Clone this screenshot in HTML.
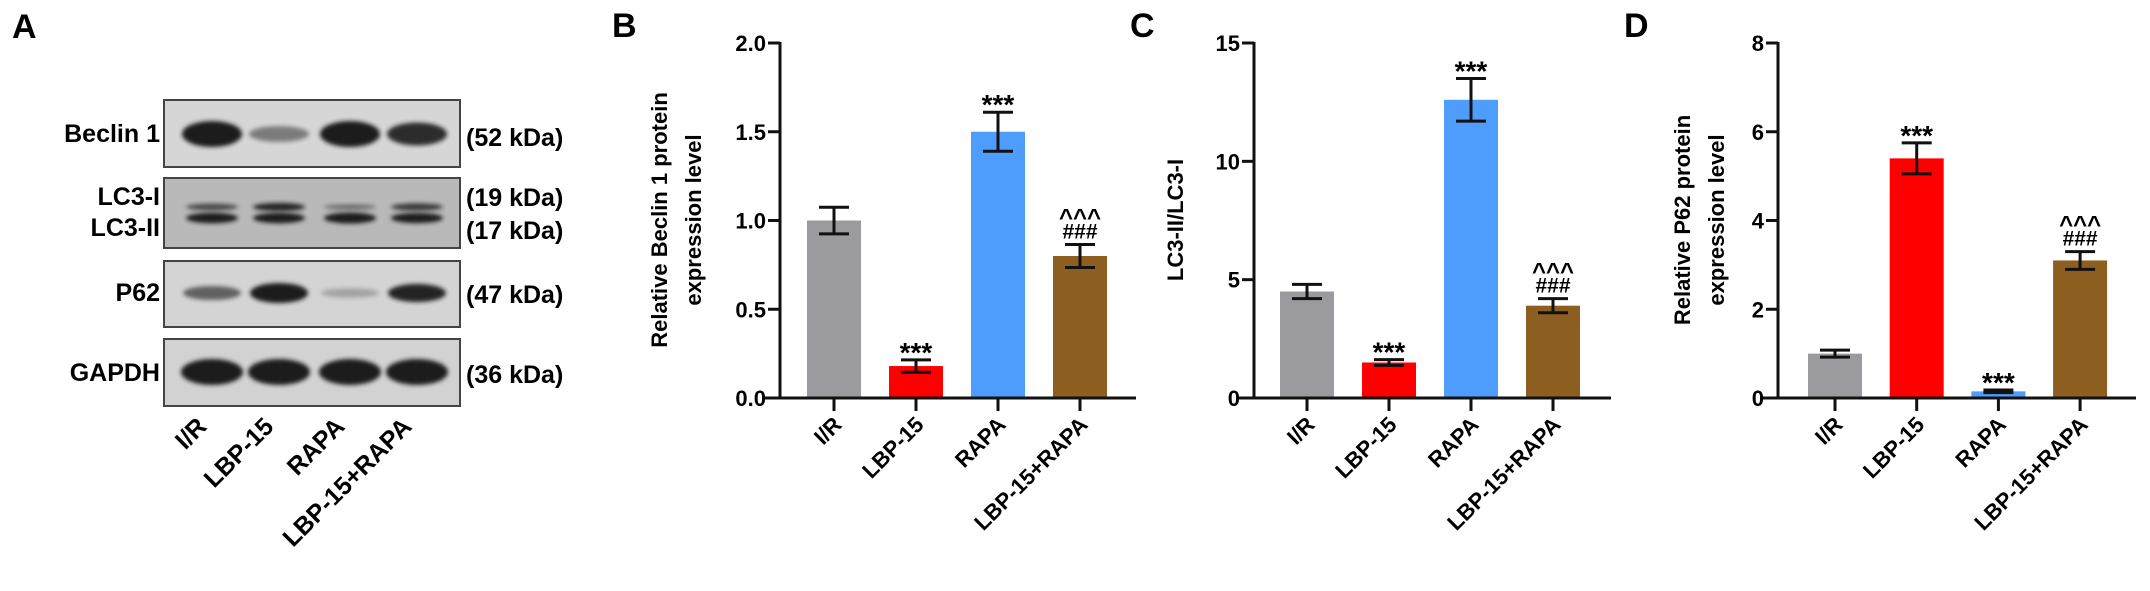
<!DOCTYPE html>
<html><head><meta charset="utf-8">
<style>
html,body{margin:0;padding:0;background:#fff;}
svg{display:block;font-family:"Liberation Sans",Arial,sans-serif;font-weight:bold;}
</style></head>
<body>
<svg id="fig" width="2150" height="591" viewBox="0 0 2150 591" xmlns="http://www.w3.org/2000/svg">
  <defs>
    <filter id="blur" x="-20%" y="-50%" width="140%" height="200%"><feGaussianBlur stdDeviation="2"/></filter>
  </defs>
  <g id="panelA">
    <text x="12" y="38" font-size="34">A</text>
  </g>
  <g id="charts"></g>
</svg>
<script>
// ---------- Shared categories ----------
const categories = ["I/R", "LBP-15", "RAPA", "LBP-15+RAPA"];
const barColors = ["#9b9b9f", "#ff0000", "#4e9dfc", "#8c5e1f"];

// ---------- Panel B data ----------
const bValues = [1.0, 0.18, 1.5, 0.8];
const bErrors = [0.075, 0.035, 0.11, 0.065];
const bTicks = ["0.0", "0.5", "1.0", "1.5", "2.0"];
const bTickValues = [0, 0.5, 1.0, 1.5, 2.0];
const bStars = ["", "***", "***", ""];
const bHash = ["", "", "", "###"];
const bCaret = ["", "", "", "^^^"];

// ---------- Panel C data ----------
const cValues = [4.5, 1.5, 12.6, 3.9];
const cErrors = [0.3, 0.12, 0.9, 0.3];
const cTicks = ["0", "5", "10", "15"];
const cTickValues = [0, 5, 10, 15];
const cStars = ["", "***", "***", ""];
const cHash = ["", "", "", "###"];
const cCaret = ["", "", "", "^^^"];

// ---------- Panel D data ----------
const dValues = [1.0, 5.4, 0.15, 3.1];
const dErrors = [0.08, 0.35, 0.03, 0.2];
const dTicks = ["0", "2", "4", "6", "8"];
const dTickValues = [0, 2, 4, 6, 8];
const dStars = ["", "***", "***", ""];
const dHash = ["", "", "", "###"];
const dCaret = ["", "", "", "^^^"];

// ---------- Blot data (band intensities 0..1 per lane) ----------
const blotRows = ["Beclin 1", "LC3", "P62", "GAPDH"];
const beclinBands = [1.0, 0.35, 1.15, 0.8];
const lc3UpperBands = [0.6, 0.85, 0.35, 0.7];
const lc3LowerBands = [0.95, 0.95, 1.0, 0.9];
const p62Bands = [0.5, 1.0, 0.12, 0.85];
const gapdhBands = [1.0, 1.0, 1.0, 1.0];
const kdaLabels = ["(52 kDa)", "(19 kDa)", "(17 kDa)", "(47 kDa)", "(36 kDa)"];

const NS = "http://www.w3.org/2000/svg";
function mk(tag, attrs, parent) {
  const el = document.createElementNS(NS, tag);
  for (const k in attrs) el.setAttribute(k, attrs[k]);
  if (parent) parent.appendChild(el);
  return el;
}

// ================= Panel A =================
const gA = document.getElementById("panelA");
const laneX = [212, 279, 350, 417];
const boxL = 164, boxR = 460;
const boxes = [
  {y0:100, y1:167, bg:"#d6d6d6", name:"beclin-1-blot"},
  {y0:178, y1:248, bg:"#b9b9b9", name:"lc3-blot"},
  {y0:261, y1:327, bg:"#d4d4d4", name:"p62-blot"},
  {y0:339, y1:406, bg:"#d2d2d2", name:"gapdh-blot"}
];
boxes.forEach(b => {
  const r = mk("rect", {x:boxL, y:b.y0, width:boxR-boxL, height:b.y1-b.y0, fill:b.bg, stroke:"#444", "stroke-width":2}, gA);
  
  
});
function bands(arr, y, h, w) {
  arr.forEach((v, i) => {
    if (v <= 0) return;
    const e = mk("ellipse", {cx:laneX[i], cy:y, rx:w/2, ry:h/2*Math.min(1, 0.4+v*0.6), fill:"#1a1a1a", opacity:Math.min(1, 0.15+v*0.95), filter:"url(#blur)"}, gA);
    
    
  });
}
bands(beclinBands, 134, 26, 60);
bands(lc3UpperBands, 207, 9, 52);
bands(lc3LowerBands, 218, 11, 52);
bands(p62Bands, 293, 20, 58);
bands(gapdhBands, 372, 26, 62);

const leftLabels = [["Beclin 1",142],["LC3-I",205],["LC3-II",236],["P62",301],["GAPDH",381]];
leftLabels.forEach(l => {
  const t = mk("text", {x:160, y:l[1], "font-size":25, "text-anchor":"end"}, gA);
  t.textContent = l[0];
  
  
});
const kdaY = [146, 206, 239, 303, 383];
kdaLabels.forEach((k, i) => {
  const t = mk("text", {x:466, y:kdaY[i], "font-size":25}, gA);
  t.textContent = k;
  
  
});
categories.forEach((c, i) => {
  const t = mk("text", {x:0, y:0, "font-size":25, "text-anchor":"end", transform:`translate(${laneX[i]-4},428) rotate(-45)`}, gA);
  t.textContent = c;
  
  
});

// ================= Bar charts =================
const charts = document.getElementById("charts");
function barChart(cfg) {
  const g = mk("g", {}, charts);
  
  
  const y0 = 398, yTop = 43;
  const vmax = cfg.tickValues[cfg.tickValues.length-1];
  const yScale = v => y0 - (v / vmax) * (y0 - yTop);
  const xScale = i => cfg.x0 + i * cfg.step;

  const lbl = mk("text", {x:cfg.letterX, y:37, "font-size":34}, g);
  lbl.textContent = cfg.letter;
  
  

  cfg.values.forEach((v, i) => {
    const r = mk("rect", {x:xScale(i)-27, y:yScale(v), width:54, height:y0-yScale(v), fill:barColors[i]}, g);
    
    
  });
  cfg.values.forEach((v, i) => {
    const cx = xScale(i), top = yScale(v + cfg.errors[i]), bot = yScale(v - cfg.errors[i]);
    const p = mk("path", {d:`M${cx},${top}V${bot}M${cx-15},${top}H${cx+15}M${cx-15},${bot}H${cx+15}`, stroke:"#111", "stroke-width":3, fill:"none"}, g);
    
    
    if (cfg.stars[i]) {
      const t = mk("text", {x:cx, y:top+2, "font-size":28, "text-anchor":"middle"}, g);
      t.textContent = cfg.stars[i];
      
      
    }
    if (cfg.hash[i]) {
      const t = mk("text", {x:cx, y:top-6, "font-size":21, "text-anchor":"middle"}, g);
      t.textContent = cfg.hash[i];
      
      
    }
    if (cfg.caret[i]) {
      const t = mk("text", {x:cx, y:top-19, "font-size":24, "text-anchor":"middle"}, g);
      t.textContent = cfg.caret[i];
      
      
    }
  });
  const ya = mk("line", {x1:cfg.axisX, y1:yTop-1, x2:cfg.axisX, y2:y0+1.5, stroke:"#111", "stroke-width":3}, g);
  
  
  const xa = mk("line", {x1:cfg.axisX-15, y1:y0, x2:cfg.xEnd, y2:y0, stroke:"#111", "stroke-width":3}, g);
  
  
  cfg.tickValues.forEach((tv, k) => {
    const y = yScale(tv);
    const tl = mk("line", {x1:cfg.axisX-12, y1:y, x2:cfg.axisX, y2:y, stroke:"#111", "stroke-width":3}, g);
    
    
    const t = mk("text", {x:cfg.axisX-14, y:y+8, "font-size":22, "text-anchor":"end"}, g);
    t.textContent = cfg.ticks[k];
    
    
  });
  categories.forEach((c, i) => {
    const x = xScale(i);
    const tl = mk("line", {x1:x, y1:y0, x2:x, y2:y0+13, stroke:"#111", "stroke-width":3}, g);
    
    
    const t = mk("text", {x:0, y:0, "font-size":22, "text-anchor":"end", transform:`translate(${x+9},426) rotate(-45)`}, g);
    t.textContent = c;
    
    
  });
  cfg.title.forEach((line, k) => {
    const tx = cfg.titleX + k * 34;
    const t = mk("text", {x:0, y:0, "font-size":22, "text-anchor":"middle", transform:`translate(${tx},220) rotate(-90)`}, g);
    t.textContent = line;
    
    
  });
}

barChart({name:"beclin-1-chart", letter:"B", letterX:612, axisX:780, x0:834, step:82, xEnd:1136,
  values:bValues, errors:bErrors, ticks:bTicks, tickValues:bTickValues, stars:bStars, hash:bHash, caret:bCaret,
  titleX:667, title:["Relative Beclin 1 protein", "expression level"]});
barChart({name:"lc3-ratio-chart", letter:"C", letterX:1130, axisX:1254, x0:1307, step:82, xEnd:1611,
  values:cValues, errors:cErrors, ticks:cTicks, tickValues:cTickValues, stars:cStars, hash:cHash, caret:cCaret,
  titleX:1183, title:["LC3-II/LC3-I"]});
barChart({name:"p62-chart", letter:"D", letterX:1624, axisX:1778, x0:1835, step:81.7, xEnd:2136,
  values:dValues, errors:dErrors, ticks:dTicks, tickValues:dTickValues, stars:dStars, hash:dHash, caret:dCaret,
  titleX:1690, title:["Relative P62 protein", "expression level"]});
</script>
</body></html>
